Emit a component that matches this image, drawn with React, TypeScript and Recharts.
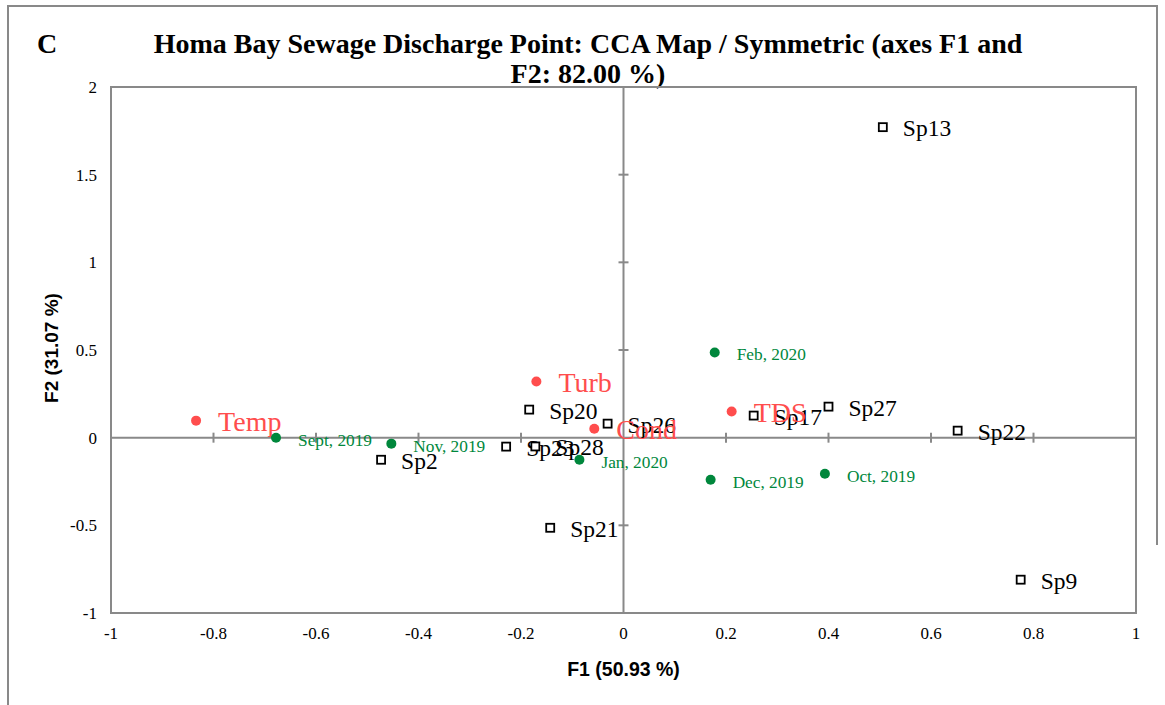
import { ReferenceArea, ReferenceLine, Scatter, ScatterChart, XAxis, YAxis } from "recharts";

type Pt = { name: string; x: number; y: number };

const species: Pt[] = [
  { name: "Sp13", x: 0.506, y: 1.771 },
  { name: "Sp20", x: -0.184, y: 0.16 },
  { name: "Sp26", x: -0.031, y: 0.08 },
  { name: "Sp17", x: 0.254, y: 0.126 },
  { name: "Sp27", x: 0.4, y: 0.177 },
  { name: "Sp22", x: 0.652, y: 0.04 },
  { name: "Sp9", x: 0.775, y: -0.81 },
  { name: "Sp21", x: -0.143, y: -0.514 },
  { name: "Sp2", x: -0.473, y: -0.126 },
  { name: "Sp23", x: -0.229, y: -0.051 },
  { name: "Sp28", x: -0.172, y: -0.05 }
];

const variables: Pt[] = [
  { name: "Temp", x: -0.834, y: 0.097 },
  { name: "Turb", x: -0.17, y: 0.32 },
  { name: "Cond", x: -0.057, y: 0.051 },
  { name: "TDS", x: 0.211, y: 0.149 }
];

const months: Pt[] = [
  { name: "Sept, 2019", x: -0.678, y: 0.0 },
  { name: "Nov, 2019", x: -0.453, y: -0.034 },
  { name: "Jan, 2020", x: -0.086, y: -0.126 },
  { name: "Feb, 2020", x: 0.178, y: 0.486 },
  { name: "Dec, 2019", x: 0.17, y: -0.24 },
  { name: "Oct, 2019", x: 0.393, y: -0.206 }
];

const xTicks = [-1, -0.8, -0.6, -0.4, -0.2, 0, 0.2, 0.4, 0.6, 0.8, 1];
const yTicks = [-1, -0.5, 0, 0.5, 1, 1.5, 2];

const xMarks = xTicks.filter((t) => t !== 0 && Math.abs(t) !== 1).map((t) => ({ x: t, y: 0 }));
const yMarks = yTicks.filter((t) => t !== 0 && t !== -1 && t !== 2).map((t) => ({ x: 0, y: t }));

const serif = "'Liberation Serif', 'Times New Roman', serif";
const sans = "'Liberation Sans', Arial, sans-serif";
const grey = "#898989";
const red = "#ff4d4d";
const green = "#00873c";

const SpeciesShape = (p: any) => (
  <g>
    <rect x={p.cx - 4} y={p.cy - 4} width={8} height={8} fill="#fff" stroke="#000" strokeWidth={1.8} />
    <text x={p.cx + 20} y={p.cy + 9} fontFamily={serif} fontSize={23.5} fill="#000">
      {p.payload.name}
    </text>
  </g>
);

const VarShape = (p: any) => (
  <g>
    <circle cx={p.cx} cy={p.cy} r={5} fill={red} />
    <text x={p.cx + 22} y={p.cy + 10} fontFamily={serif} fontSize={28} fill={red}>
      {p.payload.name}
    </text>
  </g>
);

const MonthShape = (p: any) => (
  <g>
    <circle cx={p.cx} cy={p.cy} r={5} fill={green} />
    <text x={p.cx + 22} y={p.cy + 8} fontFamily={serif} fontSize={17.3} fill={green}>
      {p.payload.name}
    </text>
  </g>
);

const XMark = (p: any) => <line x1={p.cx} x2={p.cx} y1={p.cy - 5} y2={p.cy + 5} stroke={grey} strokeWidth={2} />;
const YMark = (p: any) => <line x1={p.cx - 5} x2={p.cx + 5} y1={p.cy} y2={p.cy} stroke={grey} strokeWidth={2} />;

export default function App() {
  return (
    <div style={{ position: "fixed", left: 0, top: 0, width: 1165, height: 705, background: "#fff" }}>
      <div style={{ position: "absolute", left: 8, top: 5, width: 1150, height: 2, background: grey }} />
      <div style={{ position: "absolute", left: 7, top: 5, width: 2, height: 700, background: grey }} />
      <div style={{ position: "absolute", left: 1156, top: 5, width: 2, height: 540, background: grey }} />
      <div
        style={{
          position: "absolute",
          left: 37,
          top: 29,
          fontFamily: serif,
          fontWeight: "bold",
          fontSize: 28,
          lineHeight: "30px"
        }}
      >
        C
      </div>
      <div
        style={{
          position: "absolute",
          left: 88,
          top: 29,
          width: 1000,
          textAlign: "center",
          fontFamily: serif,
          fontWeight: "bold",
          fontSize: 28,
          lineHeight: "30px"
        }}
      >
        Homa Bay Sewage Discharge Point: CCA Map / Symmetric (axes F1 and
        <br />
        F2: 82.00 %)
      </div>
      <div
        style={{
          position: "absolute",
          left: 52 - 100,
          top: 348 - 12,
          width: 200,
          height: 24,
          lineHeight: "24px",
          textAlign: "center",
          transform: "rotate(-90deg)",
          fontFamily: sans,
          fontWeight: "bold",
          fontSize: 19
        }}
      >
        F2 (31.07 %)
      </div>
      <ScatterChart width={1165} height={705} margin={{ top: 87, right: 29, left: 0, bottom: 0 }} style={{ position: "absolute", left: 0, top: 0 }}>
        <XAxis
          type="number"
          dataKey="x"
          domain={[-1, 1]}
          ticks={xTicks}
          height={92}
          axisLine={{ stroke: grey, strokeWidth: 2 }}
          tickLine={false}
          tickSize={6}
          tickMargin={8}
          tick={{ fontFamily: serif, fontSize: 17, fill: "#000" }}
          label={{ value: "F1 (50.93 %)", position: "insideBottom", offset: 29, fontFamily: sans, fontWeight: "bold", fontSize: 19.5, fill: "#000" }}
        />
        <YAxis
          type="number"
          dataKey="y"
          domain={[-1, 2]}
          ticks={yTicks}
          width={111}
          axisLine={{ stroke: grey, strokeWidth: 2 }}
          tickLine={false}
          tickSize={6}
          tickMargin={8}
          tick={{ fontFamily: serif, fontSize: 17, fill: "#000" }}
        />
        <ReferenceArea x1={-1} x2={1} y1={-1} y2={2} fill="none" stroke={grey} strokeWidth={2} />
        <ReferenceLine x={0} stroke={grey} strokeWidth={2} />
        <ReferenceLine y={0} stroke={grey} strokeWidth={2} />
        <Scatter data={xMarks} shape={XMark} isAnimationActive={false} />
        <Scatter data={yMarks} shape={YMark} isAnimationActive={false} />
        <Scatter data={species} shape={SpeciesShape} isAnimationActive={false} />
        <Scatter data={variables} shape={VarShape} isAnimationActive={false} />
        <Scatter data={months} shape={MonthShape} isAnimationActive={false} />
      </ScatterChart>
    </div>
  );
}
